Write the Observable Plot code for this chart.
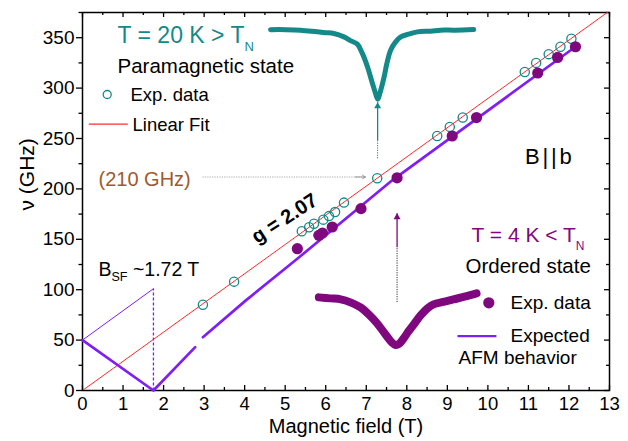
<!DOCTYPE html>
<html><head><meta charset="utf-8">
<script src="https://cdn.jsdelivr.net/npm/d3@7"></script>
<script src="https://cdn.jsdelivr.net/npm/@observablehq/plot@0.6"></script>
<style>
html,body{margin:0;padding:0;background:#fff;}
#chart{width:628px;height:441px;}
svg text{white-space:pre;}
</style></head><body><div id="chart"></div>
<script>
// ---- Data ----
// Paramagnetic state (T = 20 K), open circles
const paraB  = [2.97, 3.74, 5.41, 5.59, 5.71, 5.94, 6.08, 6.23, 6.45, 7.27, 8.75, 9.06, 9.38, 10.91, 11.19, 11.50, 11.79, 12.06];
const paraNu = [85, 108, 158, 162, 165.5, 169.5, 173, 177, 186.4, 210.5, 252.5, 261.5, 270.8, 316, 325, 333.7, 341, 349];
// Ordered state (T = 4 K), filled circles
const ordB  = [5.30, 5.83, 5.92, 6.16, 6.87, 7.76, 9.12, 9.72, 11.23, 11.72, 12.16];
const ordNu = [140.7, 153.9, 156.2, 162.2, 180.4, 211, 252.5, 270.8, 315, 330.4, 341];
// Linear fit: g-factor
const gFactor = 2.07;
const muB_GHzPerT = 13.996;
const fitRangeB = [0, 13];
// Expected AFM behaviour (thick branch, two segments)
const afmB   = [0, 1.75, 2.78, 2.97, 4.03, 5.26, 7.64, 12.16];
const afmNu  = [50, 0, 43, 52.9, 89.4, 129.4, 208.5, 341];
const afmSeg = [1, 1, 1, 2, 2, 2, 2, 2];
// Upper AFM branch below spin-flop (thin)
const afmUpB  = [0, 1.75];
const afmUpNu = [50, 101];
// Spin-flop field marker
const bSF = 1.75;
const bSFTop = 101;
// Inset spectra (drawn in chart coordinates)
const tealSpecB  = [4.64, 5.01, 5.38, 5.79, 6.00, 6.20, 6.45, 6.61, 6.78, 6.90, 7.03, 7.15, 7.22, 7.28, 7.35, 7.44, 7.51, 7.60, 7.72, 7.85, 8.04, 8.26, 8.59, 8.83, 9.20, 9.65];
const tealSpecNu = [358.0, 358.0, 357.5, 355.8, 355.0, 354.2, 350.8, 347.1, 343.6, 334.7, 321.1, 304.9, 295.9, 289.0, 296.9, 311.1, 324.7, 337.6, 345.6, 350.8, 353.5, 355.8, 356.5, 357.5, 357.5, 358.2];
const purpSpecB  = [5.83, 6.12, 6.37, 6.61, 6.86, 7.06, 7.27, 7.40, 7.53, 7.63, 7.72, 7.82, 7.92, 8.04, 8.19, 8.34, 8.51, 8.66, 8.90, 9.15, 9.45, 9.72];
const purpSpecNu = [92.4, 91.4, 90.4, 87.4, 82.4, 75.5, 66.5, 59.6, 52.6, 47.7, 45.2, 46.7, 51.6, 58.6, 66.5, 74.5, 81.4, 85.4, 87.9, 90.4, 93.3, 96.3];
// Arrows (field position, frequencies: tip, end of solid part, end of dotted part)
const tealArrow = {B: 7.28, tip: 286, solidEnd: 248, dotEnd: 230.4};
const purpArrow = {B: 7.76, tip: 175.8, solidEnd: 142, dotEnd: 87.7};
const freqArrow = {nu: 211.8, B1: 2.96, B2: 6.98};
// Ticks
const xMajor = d3.range(0, 14, 1);
const xMinor = d3.range(0.5, 13, 1);
const yMajor = d3.range(0, 351, 50);
const yMinor = d3.range(25, 376, 50);

// ---- Build tables ----
const para = paraB.map((b, i) => ({B: b, nu: paraNu[i]}));
const ord = ordB.map((b, i) => ({B: b, nu: ordNu[i]}));
const fit = fitRangeB.map(b => ({B: b, nu: gFactor * muB_GHzPerT * b}));
const afm = afmB.map((b, i) => ({B: b, nu: afmNu[i], seg: afmSeg[i]}));
const afmUp = afmUpB.map((b, i) => ({B: b, nu: afmUpNu[i]}));
const tealSpec = tealSpecB.map((b, i) => ({B: b, nu: tealSpecNu[i]}));
const purpSpec = purpSpecB.map((b, i) => ({B: b, nu: purpSpecNu[i]}));

const teal = "#13898a", purple = "#7f087f", violet = "#7f1ef6", red = "#ff2b2b", brown = "#a05a2c";
const W = 628, H = 441, ML = 82, MR = 19, MT = 12, MB = 51;
const FW = W - ML - MR, FH = H - MT - MB;

// text helper: px = left x in pixels, py = baseline y in pixels
function label(str, px, py, opts = {}) {
  return Plot.text([str], {text: d => d, frameAnchor: "top-left", dx: px - ML, dy: py - MT,
    textAnchor: "start", lineAnchor: "bottom", fill: "black", ...opts});
}
function dotAt(px, py, opts) {
  return Plot.dot([0], {frameAnchor: "top-left", dx: px - ML, dy: py - MT, ...opts});
}

const chart = Plot.plot({
  width: W, height: H,
  marginLeft: ML, marginRight: MR, marginTop: MT, marginBottom: MB,
  x: {domain: [0, 13]},
  y: {domain: [0, 375]},
  style: {fontFamily: "'Liberation Sans', Arial, sans-serif", background: "white", color: "black"},
  marks: [
    // axes
    Plot.axisX({ticks: xMajor, tickSize: 0, tickPadding: 6, fontSize: 18.5, label: null}),
    Plot.axisY({ticks: yMajor, tickSize: 6, tickPadding: 2, fontSize: 19, label: null, strokeWidth: 1.3}),
    Plot.axisY({ticks: yMinor, tickSize: 3.5, tickFormat: () => "", label: null, strokeWidth: 1.3}),
    Plot.ruleX(xMajor, {x: d => d, insetTop: FH - 5, strokeWidth: 1.3}),
    Plot.ruleX(xMinor, {x: d => d, insetTop: FH - 3, strokeWidth: 1.3}),
    Plot.ruleX(xMajor, {x: d => d, insetBottom: FH - 5, strokeWidth: 1.3}),
    Plot.ruleX(xMinor, {x: d => d, insetBottom: FH - 3, strokeWidth: 1.3}),
    Plot.ruleY(yMajor, {y: d => d, insetLeft: FW - 5, strokeWidth: 1.3}),
    Plot.ruleY(yMinor, {y: d => d, insetLeft: FW - 3, strokeWidth: 1.3}),
    Plot.frame({stroke: "black", strokeWidth: 1.5}),
    Plot.text(["Magnetic field (T)"], {text: d => d, frameAnchor: "bottom", dy: 42, lineAnchor: "bottom", fontSize: 20}),
    Plot.text(["ν (GHz)"], {text: d => d, frameAnchor: "left", dx: -49, dy: 9, rotate: -90, lineAnchor: "bottom", fontSize: 21}),

    // spectra insets
    Plot.line(tealSpec, {x: "B", y: "nu", stroke: teal, strokeWidth: 5, curve: "catmull-rom"}),
    Plot.line(purpSpec, {x: "B", y: "nu", stroke: purple, strokeWidth: 8, curve: "catmull-rom"}),

    // arrows
    Plot.link([tealArrow], {x1: "B", x2: "B", y1: "dotEnd", y2: "solidEnd", stroke: teal, strokeWidth: 1, strokeDasharray: "1.2,1.2"}),
    Plot.link([tealArrow], {x1: "B", x2: "B", y1: "solidEnd", y2: "tip", stroke: teal, strokeWidth: 1.3}),
    Plot.dot([tealArrow], {x: "B", y: "tip", symbol: "triangle", r: 2.6, fill: teal, dy: 4}),
    Plot.link([purpArrow], {x1: "B", x2: "B", y1: "dotEnd", y2: "solidEnd", stroke: "#333", strokeWidth: 1, strokeDasharray: "1.2,1.2"}),
    Plot.link([purpArrow], {x1: "B", x2: "B", y1: "solidEnd", y2: "tip", stroke: purple, strokeWidth: 1.3}),
    Plot.dot([purpArrow], {x: "B", y: "tip", symbol: "triangle", r: 2.6, fill: purple, dy: 4}),
    Plot.link([freqArrow], {x1: "B1", x2: "B2", y1: "nu", y2: "nu", stroke: "#aaa", strokeWidth: 1.2, strokeDasharray: "1.2,1.2"}),
    Plot.arrow([freqArrow], {x1: d => d.B2 - 0.25, x2: "B2", y1: "nu", y2: "nu", stroke: "#999", strokeWidth: 1, headLength: 8, headAngle: 60}),

    // lines
    Plot.line(fit, {x: "B", y: "nu", stroke: red, strokeWidth: 1, clip: true}),
    Plot.line(afmUp, {x: "B", y: "nu", stroke: violet, strokeWidth: 1}),
    Plot.link([{B: bSF, top: bSFTop}], {x1: "B", x2: "B", y1: () => 0, y2: "top", stroke: violet, strokeWidth: 1.3, strokeDasharray: "3,2"}),
    Plot.line(afm, {x: "B", y: "nu", z: "seg", stroke: violet, strokeWidth: 2.7}),

    // data points
    Plot.dot(para, {x: "B", y: "nu", r: 4.6, stroke: teal, strokeWidth: 1.3, fill: "none"}),
    Plot.dot(ord, {x: "B", y: "nu", r: 5.6, fill: purple, stroke: "none"}),

    // annotations
    label("T = 20 K > T_{N}", 117, 42, {fill: teal, fontSize: 23}),
    label("Paramagnetic state", 117, 72, {fontSize: 20.5}),
    dotAt(106.7, 94, {r: 4, stroke: teal, strokeWidth: 1.3, fill: "none"}),
    label("Exp. data", 130, 100, {fontSize: 18.5}),
    Plot.link([{x1: 0.155, x2: 1.117, y: 264.2}], {x1: "x1", x2: "x2", y1: "y", y2: "y", stroke: red, strokeWidth: 1.3}),
    label("Linear Fit", 132, 130, {fontSize: 18.5}),
    label("(210 GHz)", 98, 185.5, {fill: brown, fontSize: 20}),
    label("B||b", 524.5, 163.5, {fontSize: 22}),
    label("B_{SF} ~1.72 T", 98, 275, {fontSize: 19.5}),
    Plot.text(["g = 2.07"], {text: d => d, frameAnchor: "top-left", dx: 284 - ML, dy: 218 - MT, rotate: -33,
      textAnchor: "middle", lineAnchor: "middle", fontSize: 20, fontWeight: "bold"}),
    label("T = 4 K < T_{N}", 471, 241.7, {fill: purple, fontSize: 21}),
    label("Ordered state", 465, 272, {fontSize: 20.5}),
    dotAt(488.3, 302.3, {r: 5.6, fill: purple}),
    label("Exp. data", 510, 308.3, {fontSize: 19}),
    Plot.link([{x1: 9.25, x2: 10.21, y: 53.9}], {x1: "x1", x2: "x2", y1: "y", y2: "y", stroke: violet, strokeWidth: 2.2}),
    label("Expected", 510, 341.7, {fontSize: 19}),
    label("AFM behavior", 458, 363.3, {fontSize: 19})
  ]
});

// subscripts and letter spacing
const subCfg = {
  "T = 20 K > T_{N}": {size: 13, shift: 8},
  "T = 4 K < T_{N}": {size: 12, shift: 8},
  "B_{SF} ~1.72 T": {size: 12.5, shift: 5}
};
const NS = "http://www.w3.org/2000/svg";
chart.querySelectorAll("text").forEach(t => {
  const s = t.textContent;
  if (s === "B||b") { t.setAttribute("letter-spacing", "2.8"); return; }
  const m = s.match(/^(.*?)_\{(.*?)\}(.*)$/);
  if (!m || t.children.length) return;
  const cfg = subCfg[s] || {size: 12, shift: 6};
  t.textContent = "";
  const a = document.createElementNS(NS, "tspan"); a.textContent = m[1]; t.appendChild(a);
  const b = document.createElementNS(NS, "tspan"); b.textContent = m[2];
  b.setAttribute("dy", cfg.shift); b.setAttribute("font-size", cfg.size); t.appendChild(b);
  if (m[3]) {
    const c = document.createElementNS(NS, "tspan"); c.textContent = m[3];
    c.setAttribute("dy", -cfg.shift); t.appendChild(c);
  }
});
document.getElementById("chart").appendChild(chart);
</script></body></html>
